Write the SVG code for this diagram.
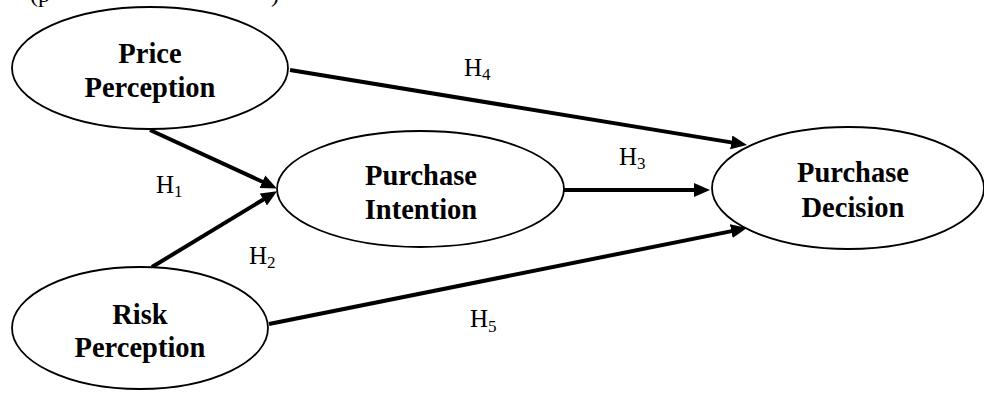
<svg xmlns="http://www.w3.org/2000/svg" width="984" height="393" viewBox="0 0 984 393">
<style>
.node ellipse{fill:#fff;stroke:#000;stroke-width:1.8}
.lbl{font-family:"Liberation Serif","Times New Roman",serif;font-weight:bold;font-size:28.5px;fill:#000;text-anchor:middle}
.h{font-family:"Liberation Serif","Times New Roman",serif;font-size:25px;fill:#000}
.sub{font-size:17px}
.conn line{stroke:#000;stroke-width:4;fill:none}
.top{font-family:"Liberation Serif","Times New Roman",serif;font-size:24px;fill:#000}
</style>
<defs>
<marker id="ah" markerUnits="userSpaceOnUse" markerWidth="17" markerHeight="15" refX="3" refY="7" orient="auto">
<path d="M0,0 L16,7 L0,14 z" fill="#000"/>
</marker>
</defs>
<rect width="984" height="393" fill="#fff"/>
<text class="top" x="30" y="1.5">(p</text>
<text class="top" x="271" y="1.5">)</text>
<g class="conn">
<line x1="290" y1="70" x2="734.2" y2="142.9" marker-end="url(#ah)"/>
<line x1="150" y1="130" x2="265.1" y2="183" marker-end="url(#ah)"/>
<line x1="152" y1="267" x2="265.9" y2="198" marker-end="url(#ah)"/>
<line x1="564" y1="190" x2="697" y2="190" marker-end="url(#ah)"/>
<line x1="269" y1="324" x2="734.2" y2="230.6" marker-end="url(#ah)"/>
</g>
<g id="price" class="node">
<ellipse cx="150" cy="68" rx="138" ry="61"/>
<text class="lbl" x="150" y="63">Price</text>
<text class="lbl" x="150" y="97">Perception</text>
</g>
<g id="risk" class="node">
<ellipse cx="140" cy="328" rx="128" ry="61"/>
<text class="lbl" x="140" y="324">Risk</text>
<text class="lbl" x="140" y="357">Perception</text>
</g>
<g id="intention" class="node">
<ellipse cx="420.5" cy="189" rx="143.5" ry="58"/>
<text class="lbl" x="421" y="185">Purchase</text>
<text class="lbl" x="421" y="219">Intention</text>
</g>
<g id="decision" class="node">
<ellipse cx="848" cy="188" rx="136" ry="61"/>
<text class="lbl" x="853" y="182">Purchase</text>
<text class="lbl" x="853" y="217">Decision</text>
</g>
<g id="labels">
<text class="h" x="156" y="193">H<tspan class="sub" dy="4">1</tspan></text>
<text class="h" x="249" y="264">H<tspan class="sub" dy="4">2</tspan></text>
<text class="h" x="619" y="165">H<tspan class="sub" dy="4">3</tspan></text>
<text class="h" x="464" y="76">H<tspan class="sub" dy="4">4</tspan></text>
<text class="h" x="470" y="327">H<tspan class="sub" dy="5">5</tspan></text>
</g>
</svg>
